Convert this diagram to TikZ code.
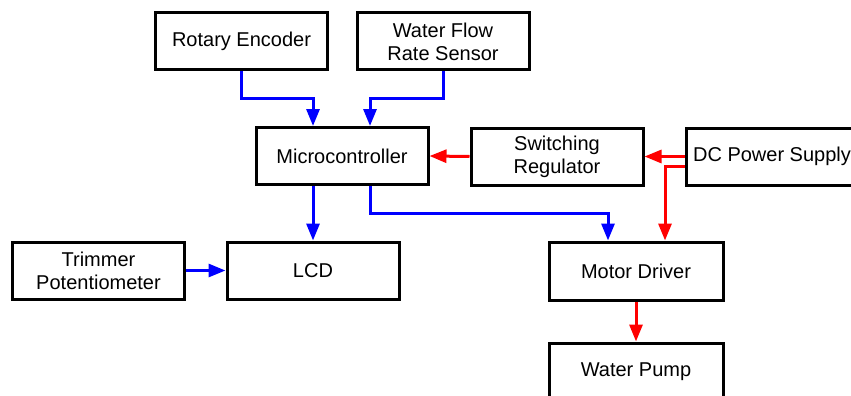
\documentclass[tikz,border=0pt]{standalone}
\usepackage{fontspec}
\setmainfont{Liberation Sans}
\usetikzlibrary{arrows.meta,calc}
\begin{document}
\begin{tikzpicture}[x=1pt,y=-1pt,
  blk/.style={draw=black,line width=3pt,fill=white,minimum width=172pt,minimum height=57pt,align=center,inner sep=0pt,font=\fontsize{20}{23}\selectfont},
  blu/.style={draw={rgb,255:red,0;green,0;blue,255},line width=3pt,-{Triangle[length=17pt,width=13pt]}},
  rd/.style={draw={rgb,255:red,255;green,0;blue,0},line width=3pt,-{Triangle[length=17pt,width=13pt]}}]
\clip (0,0) rectangle (851,396);
\useasboundingbox (0,0) rectangle (851,396);
\node[blk] (enc) at (241.5,41.5) {Rotary Encoder};
\node[blk] (flow) at (443,41.5) {Water Flow\\Rate Sensor};
\node[blk] (mcu) at (342,156) {Microcontroller};
\node[blk] (sw) at (557,156.5) {Switching\\Regulator};
\node[blk] (dc) at (772,156.5) {DC Power Supply};
\node[blk] (lcd) at (313,270.5) {LCD};
\node[blk] (trim) at (98.5,270.5) {Trimmer\\Potentiometer};
\node[blk,minimum width=174pt,minimum height=58pt] (md) at (636,271) {Motor Driver};
\node[blk,minimum width=174pt] (pump) at (636,371.5) {Water Pump};
\draw[blu] (enc.south) -- ++(0,27) -| ([xshift=-29pt]mcu.north);
\draw[blu] (flow.south) -- ++(0,27) -| ([xshift=28pt]mcu.north);
\draw[rd] (sw.west) -- (mcu.east);
\draw[rd] (dc.west) -- (sw.east);
\draw[rd] ([yshift=-10pt]dc.west) -| ([xshift=29pt]md.north);
\draw[blu] ([xshift=-29pt]mcu.south) -- (lcd.north);
\draw[blu] ([xshift=28pt]mcu.south) -- ++(0,27) -| ([xshift=-28pt]md.north);
\draw[blu] (trim.east) -- (lcd.west);
\draw[rd] (md.south) -- (pump.north);
\end{tikzpicture}
\end{document}
